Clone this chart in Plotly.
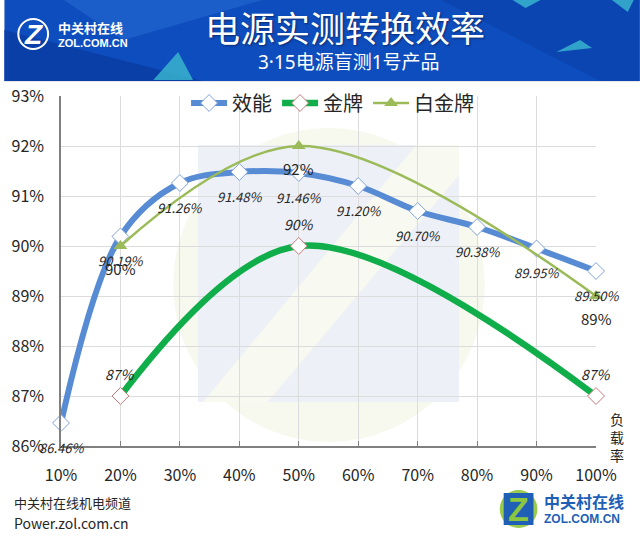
import plotly.graph_objects as go

# ---------------- data ----------------
load_levels = [10, 20, 30, 40, 50, 60, 70, 80, 90, 100]
load_labels = ["10%", "20%", "30%", "40%", "50%", "60%", "70%", "80%", "90%", "100%"]
eff_values = [86.46, 90.19, 91.26, 91.48, 91.46, 91.20, 90.70, 90.38, 89.95, 89.50]
gold_values = [None, 87, None, None, 90, None, None, None, None, 87]
plat_values = [None, 90, None, None, 92, None, None, None, None, 89]
y_ticks = [86, 87, 88, 89, 90, 91, 92, 93]
y_labels = ["86%", "87%", "88%", "89%", "90%", "91%", "92%", "93%"]
series_names = ["效能", "金牌", "白金牌"]

W, H = 640, 538
L, R, T, B = 57, 44, 96, 92
PW = W - L - R
PH = H - T - B


def px(x):
    return (x - L) / PW


def py(y):
    return (H - B - y) / PH


FONT = "Noto Sans CJK SC"
MIXFONT = "Noto Sans, Noto Sans CJK SC"
BLUE = "#578BD4"
GREEN = "#10AE4A"
LGREEN = "#9BBB59"

fig = go.Figure()

fig.add_trace(go.Scatter(
    x=load_levels, y=eff_values, name=series_names[0], mode="lines+markers",
    line=dict(color=BLUE, width=6, shape="spline", smoothing=1.0),
    marker=dict(symbol="diamond", size=13, color="white", line=dict(color="#7FA3D8", width=1)),
    cliponaxis=False,
))
fig.add_trace(go.Scatter(
    x=load_levels, y=gold_values, name=series_names[1], mode="lines+markers",
    connectgaps=True,
    line=dict(color=GREEN, width=6.5, shape="spline", smoothing=1.0),
    marker=dict(symbol="diamond", size=13, color="white", line=dict(color="#C8787A", width=1)),
    cliponaxis=False,
))
fig.add_trace(go.Scatter(
    x=load_levels, y=plat_values, name=series_names[2], mode="lines+markers",
    connectgaps=True,
    line=dict(color=LGREEN, width=2.5, shape="spline", smoothing=1.0),
    marker=dict(symbol="triangle-up", size=12, color=LGREEN),
    cliponaxis=False,
))


def note(x, y, text, size, color="#262626", family=FONT, xanchor="center", **kw):
    return dict(x=px(x), y=py(y), xref="paper", yref="paper", text=text, showarrow=False,
                xanchor=xanchor, yanchor="middle",
                font=dict(family=family, size=size, color=color, **kw))


ann = []
for xv, v in zip(load_levels, eff_values):
    ann.append(dict(x=xv, y=v, xref="x", yref="y", text=f"{v:.2f}%", showarrow=False,
                    xanchor="center", yanchor="middle",
                    yshift=-24, font=dict(family=FONT, size=13, color="#262626", style="italic")))
for xv, v in zip(load_levels, gold_values):
    if v is not None:
        ann.append(dict(x=xv, y=v, xref="x", yref="y", text=f"{v:.0f}%", showarrow=False,
                        xanchor="center", yanchor="middle",
                        yshift=22, font=dict(family=FONT, size=14, color="#262626", style="italic")))
for xv, v in zip(load_levels, plat_values):
    if v is not None:
        ann.append(dict(x=xv, y=v, xref="x", yref="y", text=f"{v:.0f}%", showarrow=False,
                        xanchor="center", yanchor="middle",
                        yshift=-22, font=dict(family=FONT, size=15, color="#262626")))

# header texts
ann.append(note(343, 26, "电源实测转换效率", 35, "white", shadow="1px 1px 2px #0a2a70"))
ann.append(note(347, 62, "3·15电源盲测1号产品", 19, "white", family=MIXFONT))
# top-left logo
ann.append(note(29, 34, "<b><i>Z</i></b>", 28, "white", family="Liberation Sans"))
ann.append(note(52, 28, "<b>中关村在线</b>", 13, "white", xanchor="left"))
ann.append(note(52, 43, "<b>ZOL.COM.CN</b>", 11, "white", family="Liberation Sans", xanchor="left"))
# axis title
ann.append(note(617, 437, "负<br>载<br>率", 14))
# footer
ann.append(note(8, 502, "中关村在线机电频道", 13, xanchor="left"))
ann.append(note(8, 523, "Power.zol.com.cn", 14, xanchor="left"))
# bottom-right logo
ann.append(note(518, 509, "<b>Z</b>", 34, "#8CC63F", family="Liberation Sans"))
ann.append(note(542, 501, "<b>中关村在线</b>", 16, "#1F5FB5", xanchor="left"))
ann.append(note(542, 519, "<b>ZOL.COM.CN</b>", 12, "#1F5FB5", family="Liberation Sans", xanchor="left"))

shapes = []
# banner
shapes.append(dict(type="rect", xref="paper", yref="paper", x0=px(0), x1=px(640), y0=py(0), y1=py(81),
                   fillcolor="#0E4DBD", line=dict(width=0), layer="below"))
shapes.append(dict(type="path", xref="paper", yref="paper",
                   path=f"M {px(0)},{py(30)} L {px(200)},{py(81)} L {px(0)},{py(81)} Z",
                   fillcolor="#0A3FA8", line=dict(width=0), layer="below"))
shapes.append(dict(type="path", xref="paper", yref="paper",
                   path=f"M {px(440)},{py(0)} L {px(640)},{py(0)} L {px(640)},{py(81)} L {px(600)},{py(81)} Z",
                   fillcolor="#0B45B2", line=dict(width=0), layer="below"))
shapes.append(dict(type="path", xref="paper", yref="paper",
                   path=f"M {px(60)},{py(0)} L {px(260)},{py(0)} L {px(120)},{py(40)} Z",
                   fillcolor="#2A6FD6", opacity=0.5, line=dict(width=0), layer="below"))
for tri in [((150, 80), (175, 52), (190, 80)), ((556, 52), (580, 40), (592, 48)),
            ((612, 0), (634, 0), (628, 12)), ((512, 0), (540, 0), (525, 8))]:
    (a, b), (c, d), (e, f) = tri
    shapes.append(dict(type="path", xref="paper", yref="paper",
                       path=f"M {px(a)},{py(b)} L {px(c)},{py(d)} L {px(e)},{py(f)} Z",
                       fillcolor="#3FC2D2", opacity=0.75, line=dict(width=0), layer="below"))
shapes.append(dict(type="line", xref="paper", yref="paper", x0=px(0), x1=px(640), y0=py(81.5), y1=py(81.5),
                   line=dict(color="#e6e6e6", width=1), layer="below"))
# top-left logo ring
shapes.append(dict(type="circle", xref="paper", yref="paper", x0=px(14), x1=px(44), y0=py(19), y1=py(49),
                   line=dict(color="white", width=2), layer="below"))
# watermark
shapes.append(dict(type="circle", xref="paper", yref="paper", x0=px(170), x1=px(484), y0=py(128), y1=py(442),
                   fillcolor="#F7F9EE", line=dict(width=0), layer="below"))
shapes.append(dict(type="rect", xref="paper", yref="paper", x0=px(195), x1=px(458), y0=py(145), y1=py(402),
                   fillcolor="#EEF0F7", line=dict(width=0), layer="below"))
shapes.append(dict(type="path", xref="paper", yref="paper",
                   path=(f"M {px(200)},{py(402)} L {px(265)},{py(402)} L {px(458)},{py(175)} "
                         f"L {px(458)},{py(145)} L {px(415)},{py(145)} Z"),
                   fillcolor="#F8F9F0", line=dict(width=0), layer="below"))
# bottom-right logo
shapes.append(dict(type="circle", xref="paper", yref="paper", x0=px(499), x1=px(537), y0=py(490), y1=py(528),
                   fillcolor="#9ACB4E", line=dict(width=0), layer="below"))
shapes.append(dict(type="rect", xref="paper", yref="paper", x0=px(503), x1=px(533), y0=py(493), y1=py(525),
                   fillcolor="#1F5FB5", line=dict(width=0), layer="below"))

fig.update_layout(
    width=W, height=H,
    margin=dict(l=L, r=R, t=T, b=B),
    paper_bgcolor="white", plot_bgcolor="rgba(0,0,0,0)",
    font=dict(family=FONT, color="#262626"),
    showlegend=True,
    legend=dict(orientation="h", x=px(183), y=py(103), xanchor="left", yanchor="middle",
                font=dict(family=FONT, size=20, color="#262626"), bgcolor="rgba(0,0,0,0)",
                itemwidth=36, tracegroupgap=0),
    annotations=ann,
    shapes=shapes,
)
fig.update_xaxes(range=[10, 100], tickvals=load_levels, ticktext=load_labels,
                 showgrid=True, gridcolor="#DCDCDC", gridwidth=1,
                 showline=True, linecolor="#808080", linewidth=1.5,
                 ticks="inside", ticklen=5, tickcolor="#808080",
                 tickfont=dict(family=FONT, size=16, color="#262626"),
                 ticklabelstandoff=14, zeroline=False)
fig.update_yaxes(range=[86, 93], tickvals=y_ticks, ticktext=y_labels,
                 showgrid=True, gridcolor="#DCDCDC", gridwidth=1,
                 showline=True, linecolor="#808080", linewidth=1.5,
                 ticks="", tickfont=dict(family=FONT, size=16, color="#262626"),
                 ticklabelstandoff=12, zeroline=False)

fig.write_html("out.html", config={"displayModeBar": False},
               post_script="document.body.style.margin='0';")
